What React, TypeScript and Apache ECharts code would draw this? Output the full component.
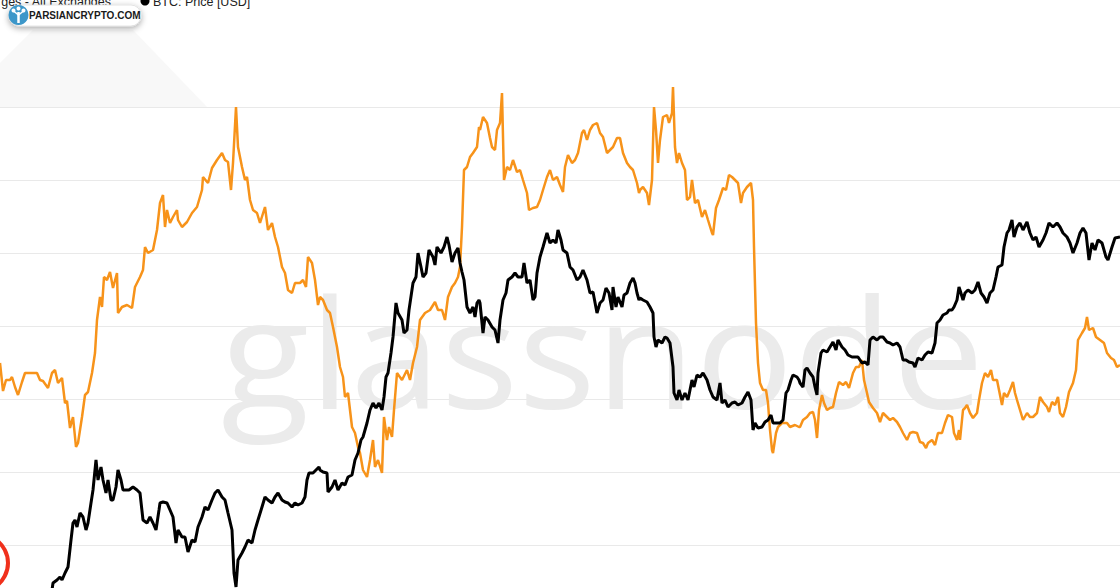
import React, { useEffect, useRef } from "react";
import * as echarts from "echarts";

// Exchange metric (orange): [day, value]
const exchangeMetric: [number, number][] = [
  [0,255],[3,227],[6,238],[10,238],[12,241],[15,231],[18,223],[22,236],[25,245],[30,245],[35,245],[37,245],[40,238],[43,237],[48,230],[52,245],[55,248],[58,235],[62,240],[65,215],[67,217],[70,190],[73,201],[76,171],[78,175],[82,201],[85,223],[88,226],[92,245],[95,265],[97,298],[100,321],[102,311],[104,341],[107,338],[110,346],[113,330],[117,345],[118,305],[122,311],[127,313],[132,310],[135,331],[140,341],[143,348],[145,371],[148,365],[153,368],[157,388],[160,415],[163,423],[165,391],[167,408],[170,395],[173,401],[177,408],[178,398],[182,391],[187,396],[192,405],[197,411],[202,428],[203,441],[208,435],[212,450],[217,458],[222,465],[225,458],[228,456],[231,428],[233,455],[236,511],[238,471],[242,451],[245,438],[247,441],[250,418],[253,408],[257,405],[260,395],[265,411],[268,388],[272,395],[275,381],[278,371],[282,351],[285,345],[288,328],[292,325],[295,335],[300,335],[303,338],[306,331],[308,361],[312,355],[315,338],[318,313],[320,321],[323,318],[327,308],[330,305],[333,291],[337,271],[340,251],[343,241],[345,221],[348,225],[352,191],[355,185],[358,171],[360,165],[363,148],[367,141],[370,158],[373,178],[375,151],[378,158],[382,145],[384,201],[387,178],[389,191],[392,181],[394,208],[397,245],[402,238],[407,248],[410,238],[413,255],[417,271],[420,298],[425,305],[430,308],[435,316],[438,308],[442,308],[445,298],[448,321],[452,331],[455,335],[458,341],[460,351],[462,391],[464,448],[467,451],[470,461],[473,465],[477,471],[479,491],[480,488],[483,501],[487,495],[490,480],[492,471],[495,468],[497,488],[500,495],[502,525],[504,438],[507,451],[510,448],[513,458],[517,446],[520,448],[523,438],[527,425],[529,408],[533,410],[537,411],[540,418],[543,428],[547,441],[550,448],[553,438],[557,441],[560,433],[563,426],[565,451],[568,463],[572,455],[575,458],[578,465],[582,485],[584,488],[587,478],[590,488],[593,493],[597,495],[600,485],[603,481],[607,465],[610,468],[613,471],[617,480],[620,480],[623,465],[627,455],[630,451],[633,448],[637,435],[639,425],[640,428],[643,431],[647,425],[649,413],[652,438],[654,511],[656,488],[658,455],[660,478],[663,501],[667,503],[669,495],[672,505],[673,531],[675,471],[677,455],[679,465],[682,455],[685,448],[687,418],[690,421],[692,438],[695,415],[698,418],[702,401],[705,408],[708,398],[712,385],[713,383],[716,410],[719,418],[723,430],[726,428],[729,443],[732,441],[735,438],[738,435],[741,415],[743,425],[747,431],[751,435],[753,418],[754,371],[756,295],[758,255],[760,235],[763,228],[766,228],[768,215],[770,188],[772,168],[773,165],[776,185],[778,191],[782,195],[787,195],[790,191],[795,193],[799,191],[800,191],[803,198],[807,201],[810,205],[813,206],[815,198],[817,180],[819,208],[822,223],[824,215],[827,208],[830,210],[833,211],[836,225],[839,236],[843,233],[846,236],[849,230],[853,245],[856,251],[859,251],[862,258],[864,238],[867,225],[869,216],[873,210],[877,205],[880,196],[883,205],[887,201],[890,198],[893,200],[897,196],[900,191],[903,185],[907,178],[910,185],[913,186],[917,185],[920,176],[923,175],[926,170],[928,175],[932,178],[935,173],[938,185],[942,185],[945,195],[948,203],[952,201],[954,185],[957,178],[959,188],[960,178],[963,208],[965,210],[967,213],[970,205],[973,200],[977,205],[979,218],[982,235],[985,245],[988,241],[991,248],[993,238],[997,238],[999,228],[1002,213],[1004,225],[1007,221],[1010,228],[1013,236],[1015,225],[1017,218],[1020,208],[1023,198],[1027,205],[1030,201],[1033,201],[1037,205],[1040,221],[1043,216],[1047,211],[1049,206],[1052,216],[1055,213],[1058,221],[1060,205],[1063,201],[1066,211],[1069,226],[1073,235],[1076,248],[1078,278],[1082,285],[1085,290],[1087,301],[1089,288],[1093,290],[1096,281],[1100,278],[1104,275],[1107,265],[1111,260],[1114,258],[1117,251],[1120,253],
];

// BTC price (black): [day, value]
const btcPrice: [number, number][] = [
  [52,28],[53,35],[57,38],[60,41],[62,38],[65,45],[68,51],[71,78],[73,95],[75,98],[77,91],[80,105],[83,101],[86,88],[88,95],[91,115],[93,128],[96,158],[98,138],[101,151],[103,138],[106,125],[108,138],[111,118],[113,118],[116,131],[118,148],[121,138],[123,128],[126,128],[129,128],[133,131],[137,128],[140,125],[143,98],[147,95],[150,101],[153,95],[156,88],[159,108],[160,115],[163,116],[167,115],[170,108],[173,101],[176,75],[178,88],[182,81],[185,81],[188,66],[192,78],[195,76],[198,91],[202,101],[205,111],[208,108],[212,118],[215,125],[218,128],[222,121],[225,118],[228,105],[232,88],[234,45],[236,31],[238,58],[242,65],[245,71],[248,78],[252,75],[255,88],[258,98],[262,111],[265,121],[268,118],[272,115],[275,121],[278,125],[282,118],[285,116],[288,115],[292,111],[295,115],[298,113],[302,115],[305,121],[307,138],[309,145],[313,145],[316,148],[319,151],[320,148],[323,146],[327,145],[328,126],[332,131],[335,138],[338,128],[342,135],[345,133],[348,141],[352,143],[355,158],[358,165],[361,178],[363,181],[367,195],[370,208],[373,215],[376,210],[379,215],[382,208],[384,221],[386,241],[388,245],[391,265],[393,281],[396,315],[398,305],[402,298],[404,285],[407,288],[409,308],[413,335],[416,341],[418,365],[421,351],[423,341],[426,345],[429,368],[433,361],[435,353],[437,371],[441,365],[444,371],[447,381],[449,373],[452,356],[455,365],[458,370],[460,355],[462,346],[464,338],[467,311],[470,305],[473,311],[475,301],[477,315],[479,318],[480,315],[483,285],[485,301],[488,298],[492,291],[495,288],[498,275],[500,298],[503,318],[506,325],[508,338],[512,341],[515,345],[518,341],[522,341],[524,355],[527,335],[530,338],[533,318],[535,321],[537,345],[540,361],[543,371],[547,385],[550,375],[553,378],[556,375],[558,388],[561,378],[563,368],[567,365],[570,351],[573,348],[577,338],[580,341],[583,348],[587,338],[590,325],[593,326],[597,305],[600,315],[603,318],[606,330],[609,325],[612,308],[613,331],[616,311],[618,321],[622,311],[624,323],[627,325],[630,335],[633,340],[635,335],[637,325],[639,318],[640,320],[643,318],[647,316],[650,311],[653,305],[654,281],[656,271],[658,278],[662,275],[665,281],[667,280],[670,275],[673,251],[674,225],[677,218],[679,228],[682,218],[685,225],[688,218],[692,238],[694,231],[697,243],[700,241],[703,245],[707,238],[710,228],[713,221],[717,218],[720,235],[722,215],[725,218],[728,211],[732,215],[735,216],[738,213],[742,215],[745,221],[748,226],[751,218],[753,188],[755,195],[758,190],[762,191],[765,196],[768,198],[771,203],[773,195],[777,195],[780,195],[783,198],[786,225],[788,228],[791,238],[793,243],[797,241],[799,238],[800,235],[803,231],[805,248],[807,250],[810,245],[813,241],[815,231],[817,223],[818,245],[821,265],[823,268],[827,266],[830,271],[833,276],[836,268],[838,278],[842,271],[845,268],[848,263],[852,261],[855,261],[858,261],[862,255],[865,256],[868,253],[870,278],[873,281],[877,278],[880,281],[883,281],[887,276],[890,275],[893,273],[897,275],[900,271],[903,258],[906,258],[909,256],[913,255],[915,251],[918,260],[922,258],[925,263],[928,266],[932,265],[935,275],[937,295],[940,298],[943,303],[947,305],[949,308],[952,308],[954,311],[957,318],[959,331],[960,328],[963,318],[965,325],[968,328],[972,325],[975,328],[978,336],[981,325],[984,321],[987,315],[990,325],[993,328],[996,341],[998,351],[1002,353],[1004,371],[1007,385],[1009,388],[1012,398],[1014,381],[1017,391],[1020,395],[1023,388],[1027,396],[1030,385],[1033,378],[1036,381],[1039,371],[1043,378],[1046,385],[1049,395],[1053,391],[1057,395],[1060,391],[1063,385],[1067,381],[1070,375],[1073,365],[1077,375],[1080,385],[1083,390],[1086,385],[1089,358],[1092,375],[1095,368],[1098,378],[1102,375],[1106,361],[1108,358],[1112,371],[1115,380],[1120,381],
];

const yMin = 0;
const yMax = 584;
const yStep = 73;
const dayMin = 0;
const dayMax = 1120;

const legendLeftText = "ges - All Exchanges";
const legendRightText = "BTC: Price [USD]";
const badgeText = "PARSIANCRYPTO.COM";
const watermarkText = "glassnode";

export default function App() {
  const ref = useRef<HTMLDivElement>(null);
  useEffect(() => {
    if (!ref.current) return;
    const chart = echarts.init(ref.current, undefined, { renderer: "svg" });
    chart.setOption({
      animation: false,
      backgroundColor: "#ffffff",
      grid: { left: 0, right: 0, top: 34, bottom: 0, containLabel: false },
      xAxis: {
        type: "value",
        min: dayMin,
        max: dayMax,
        show: false,
      },
      yAxis: {
        type: "value",
        min: yMin,
        max: yMax,
        interval: yStep,
        axisLine: { show: false },
        axisTick: { show: false },
        axisLabel: { show: false },
        splitLine: {
          show: true,
          showMaxLine: false,
          lineStyle: { color: "#e9e9e9", width: 1 },
        },
      },
      graphic: [
        {
          type: "polygon",
          z: 0,
          shape: { points: [[33, 30], [133, 30], [207, 107], [0, 107], [0, 63]] },
          style: { fill: "#f8f8f8" },
          silent: true,
        },
        {
          type: "text",
          z: 1,
          x: 221,
          y: 350,
          scaleX: 1.07,
          style: {
            text: watermarkText,
            font: '152px "Open Sans"',
            fill: "#ebebeb",
            verticalAlign: "middle",
            align: "left",
          },
          silent: true,
        },
        {
          type: "text",
          z: 10,
          x: 111,
          y: 1.5,
          style: {
            text: legendLeftText,
            font: '12.5px "Liberation Sans", Arial',
            fill: "#222",
            align: "right",
            verticalAlign: "middle",
          },
        },
        {
          type: "circle",
          z: 10,
          shape: { cx: 145, cy: 1, r: 4.5 },
          style: { fill: "#000" },
        },
        {
          type: "text",
          z: 10,
          x: 153,
          y: 1.5,
          style: {
            text: legendRightText,
            font: '12.5px "Liberation Sans", Arial',
            fill: "#222",
            align: "left",
            verticalAlign: "middle",
          },
        },
        {
          type: "rect",
          z: 20,
          shape: { x: 9, y: 5, width: 132, height: 21, r: 10 },
          style: {
            fill: "#ffffff",
            stroke: "#dddddd",
            lineWidth: 0.8,
            shadowBlur: 6,
            shadowOffsetY: 2,
            shadowColor: "rgba(0,0,0,0.35)",
          },
        },
        {
          type: "circle",
          z: 21,
          shape: { cx: 18.5, cy: 15, r: 10 },
          style: { fill: "#3d97c9" },
        },
        {
          type: "line",
          z: 22,
          shape: { x1: 18.5, y1: 23, x2: 18.5, y2: 12 },
          style: { stroke: "#ffffff", lineWidth: 2.5 },
        },
        {
          type: "polyline",
          z: 22,
          shape: { points: [[13.5, 11], [18.5, 15], [23.5, 11]] },
          style: { stroke: "#ffffff", lineWidth: 1.5, fill: "none" },
        },
        {
          type: "circle",
          z: 22,
          shape: { cx: 13.5, cy: 10.5, r: 2 },
          style: { fill: "#ffffff" },
        },
        {
          type: "circle",
          z: 22,
          shape: { cx: 18.5, cy: 8.5, r: 2 },
          style: { fill: "#ffffff" },
        },
        {
          type: "circle",
          z: 22,
          shape: { cx: 23.5, cy: 10.5, r: 2 },
          style: { fill: "#ffffff" },
        },
        {
          type: "text",
          z: 22,
          x: 29,
          y: 15.5,
          style: {
            text: badgeText,
            font: 'bold 10px "Liberation Sans", Arial',
            fill: "#1a1a1a",
            align: "left",
            verticalAlign: "middle",
          },
        },
        {
          type: "circle",
          z: 20,
          shape: { cx: -20, cy: 563, r: 28 },
          style: { fill: "none", stroke: "#f0301c", lineWidth: 4 },
        },
      ],
      series: [
        {
          name: "Exchanges - All Exchanges",
          type: "line",
          data: exchangeMetric,
          showSymbol: false,
          symbol: "none",
          z: 3,
          lineStyle: { color: "#f7931a", width: 2.5 },
        },
        {
          name: "BTC: Price [USD]",
          type: "line",
          data: btcPrice,
          showSymbol: false,
          symbol: "none",
          z: 4,
          lineStyle: { color: "#000000", width: 3 },
        },
      ],
    });
    return () => chart.dispose();
  }, []);
  return (
    <div
      ref={ref}
      style={{ position: "fixed", left: 0, top: 0, width: 1120, height: 618 }}
    />
  );
}
